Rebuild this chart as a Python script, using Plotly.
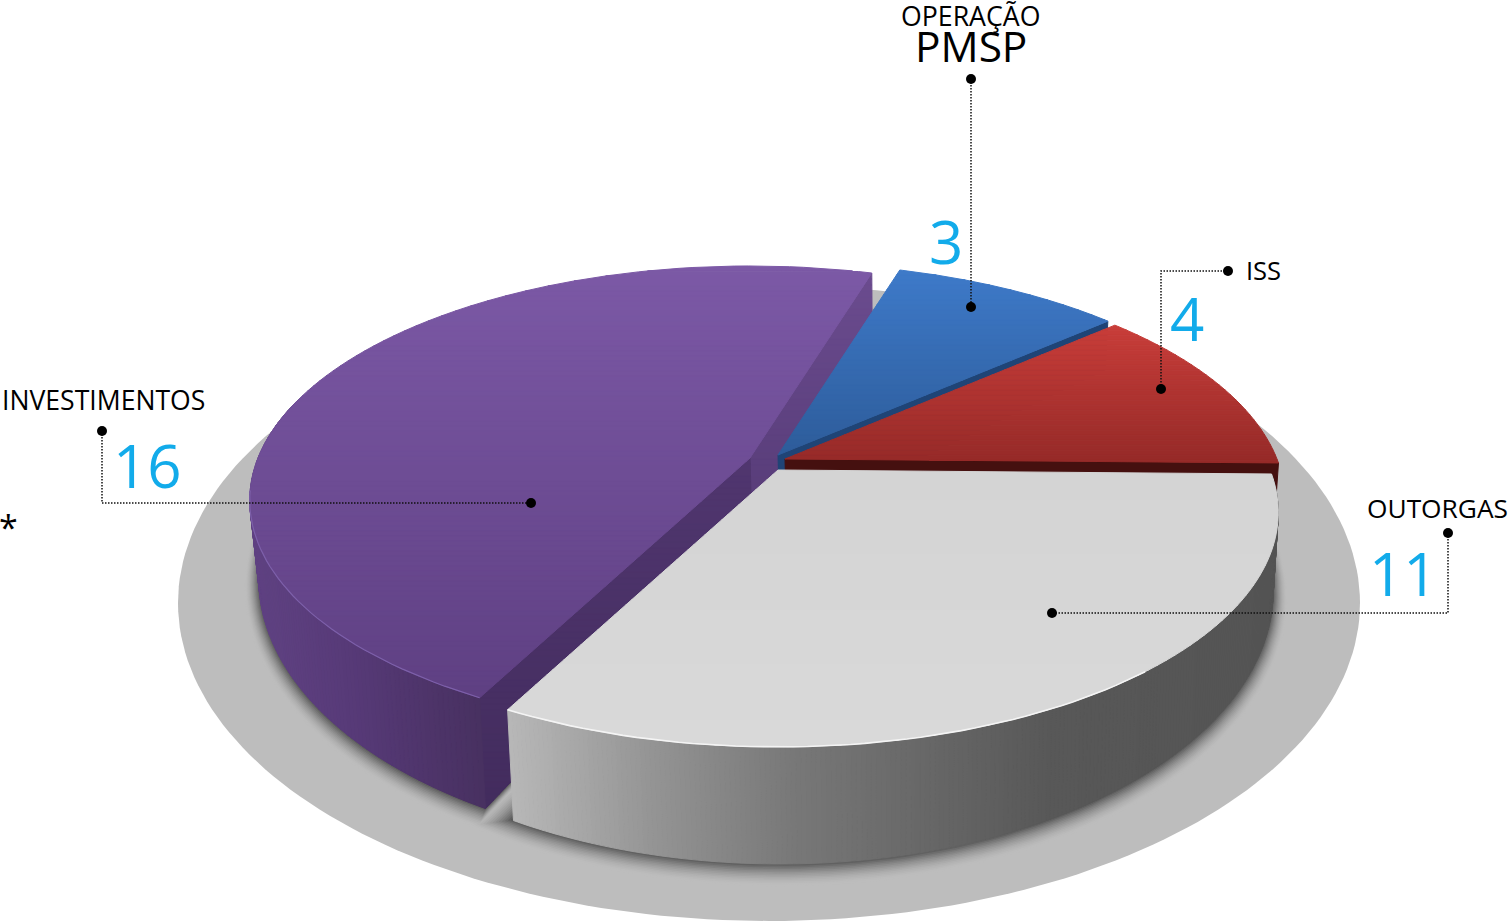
import numpy as np
import plotly.graph_objects as go

# ---- data ----
categories = ["OUTORGAS", "INVESTIMENTOS", "OPERAÇÃO PMSP", "ISS"]
values = [11, 16, 3, 4]
number_colour = "#12ABEA"

# ---- projection of the pie (a tilted disc seen in perspective) ----
W, H = 1510, 922
START_DEG = 1.0
TOP = dict(x0=778, y0=470, a=492, b=226.8, k=-0.181)
BOT = dict(x0=780, y0=541, a=485, b=264.5, k=-0.181)
OFFSET = {"OUTORGAS": (0, 0), "INVESTIMENTOS": (-28, -12), "OPERAÇÃO PMSP": (0, -15), "ISS": (7, -11)}
TOP_STOPS = {
    "OUTORGAS": [(470, "#d4d4d4"), (747, "#d9d9d9")],
    "INVESTIMENTOS": [(266, "#7c59a6"), (694, "#5f4083")],
    "OPERAÇÃO PMSP": [(270, "#3e7ac9"), (455, "#2d5c9a")],
    "ISS": [(325, "#c93d39"), (460, "#962a28")],
}
WALL_STOPS = {
    "OUTORGAS": [(505, "#b9b9b9"), (650, "#959595"), (800, "#777777"), (1050, "#585858"), (1280, "#545454")],
    "INVESTIMENTOS": [(250, "#604283"), (350, "#573a78"), (490, "#47305f")],
}
CUT_COLOUR = {"OPERAÇÃO PMSP": "#1f4476", "ISS": "#45100f"}


def hex2rgb(c):
    return np.array([int(c[i:i + 2], 16) for i in (1, 3, 5)], float)


def ramp(stops, t):
    ps = [s[0] for s in stops]
    cs = np.array([hex2rgb(s[1]) for s in stops])
    rgb = [np.interp(t, ps, cs[:, i]) for i in range(3)]
    return "rgb(%d,%d,%d)" % tuple(round(v) for v in rgb)


def project(p, deg, off=(0, 0), grow=0.0):
    t = np.radians(deg)
    u, v = np.cos(t), np.sin(t)
    d = 1 + p["k"] * v
    return p["x0"] + off[0] + (p["a"] + grow) * u / d, p["y0"] + off[1] + (p["b"] + grow) * v / d


def centre(p, off=(0, 0)):
    return p["x0"] + off[0], p["y0"] + off[1]


def clip_band(poly, y1, y2):
    def clip(pts, inside, cut):
        out = []
        for i in range(len(pts)):
            a, b = pts[i], pts[(i + 1) % len(pts)]
            ia, ib = inside(a), inside(b)
            if ia:
                out.append(a)
            if ia != ib:
                out.append(cut(a, b))
        return out

    def cutter(yc):
        return lambda a, b: (a[0] + (yc - a[1]) / (b[1] - a[1]) * (b[0] - a[0]), yc)

    pts = clip(poly, lambda q: q[1] >= y1, cutter(y1))
    if pts:
        pts = clip(pts, lambda q: q[1] <= y2, cutter(y2))
    return pts


fig = go.Figure()


def fill(xs, ys, colour, seam=1.0):
    fig.add_trace(go.Scatter(x=list(xs) + [xs[0]], y=list(ys) + [ys[0]], mode="lines", fill="toself",
                             fillcolor=colour, line=dict(color=colour, width=seam),
                             hoverinfo="skip", showlegend=False))


# angular extent of each slice, from the values
total = sum(values)
spans = {}
cursor = START_DEG
for name, val in zip(categories, values):
    spans[name] = (cursor, cursor + val / total * 360)
    cursor += val / total * 360

# base disc
t = np.radians(np.linspace(0, 360, 241))
fill(769 + 591 * np.cos(t), 603 + 318 * np.sin(t), "#bdbdbd", 0)

# soft contact shadow
SH = 15
for i in range(SH, -1, -1):
    f = (1 - i / SH) ** 1.7
    col = "rgb(%d,%d,%d)" % tuple(np.round(hex2rgb("#bdbdbd") * (1 - f) + hex2rgb("#484848") * f))
    for name in ["INVESTIMENTOS", "OUTORGAS"]:
        s, e = spans[name]
        off = OFFSET[name]
        extra = i * 0.3 if name == "OUTORGAS" else 0
        th = np.linspace(s, e + extra, 70)
        x, y = project(BOT, th, off, grow=i * 1.0 - 1)
        cx, cy = centre(BOT, off)
        fill(np.r_[cx, x], np.r_[cy, y + i * 0.35], col, 0)


def draw_top(name):
    s, e = spans[name]
    off = OFFSET[name]
    x, y = project(TOP, np.linspace(s, e, 90), off)
    cx, cy = centre(TOP, off)
    poly = [(cx, cy)] + list(zip(x, y))
    ys = [q[1] for q in poly]
    y0, y1 = min(ys), max(ys)
    step = 5.0
    yy = y0
    while yy < y1:
        pts = clip_band(poly, yy, yy + step)
        if len(pts) >= 3:
            fill([q[0] for q in pts], [q[1] for q in pts], ramp(TOP_STOPS[name], yy + step / 2))
        yy += step


def draw_wall(name, a0, a1, n):
    off = OFFSET[name]
    th = np.linspace(a0, a1, n + 1)
    for i in range(n):
        xt, yt = project(TOP, th[i:i + 2], off)
        xb, yb = project(BOT, th[i:i + 2], off)
        xs = [xt[0], xt[1], xb[1], xb[0]]
        ys = [yt[0], yt[1], yb[1], yb[0]]
        fill(xs, ys, ramp(WALL_STOPS[name], float(np.mean(xs))))


def cut_face(name, deg, colour_fn):
    off = OFFSET[name]
    xt, yt = project(TOP, deg, off)
    xb, yb = project(BOT, deg, off)
    cxt, cyt = centre(TOP, off)
    cxb, cyb = centre(BOT, off)
    poly = [(xt, yt), (xb, yb), (cxb, cyb), (cxt, cyt)]
    if isinstance(colour_fn, str):
        fill([q[0] for q in poly], [q[1] for q in poly], colour_fn)
        return
    ys = [q[1] for q in poly]
    yy = min(ys)
    while yy < max(ys):
        pts = clip_band(poly, yy, yy + 6)
        if len(pts) >= 3:
            fill([q[0] for q in pts], [q[1] for q in pts], colour_fn(yy + 3))
        yy += 6


# purple slice
p_s, p_e = spans["INVESTIMENTOS"]
cut_face("INVESTIMENTOS", p_e, lambda y: ramp([(270, "#6b4c8f"), (480, "#5a3e7b")], y))
cut_face("INVESTIMENTOS", p_s, lambda y: ramp([(460, "#50366f"), (800, "#432c5e")], y))
draw_wall("INVESTIMENTOS", p_s, 195, 120)
draw_top("INVESTIMENTOS")
hx, hy = project(TOP, np.linspace(p_s, 172, 40), OFFSET["INVESTIMENTOS"])
fig.add_trace(go.Scatter(x=hx, y=hy, mode="lines", line=dict(color="#7d60aa", width=1.2),
                         hoverinfo="skip", showlegend=False))

# blue slice
b_s, b_e = spans["OPERAÇÃO PMSP"]
cut_face("OPERAÇÃO PMSP", b_e, CUT_COLOUR["OPERAÇÃO PMSP"])
draw_top("OPERAÇÃO PMSP")

# red slice
r_s, r_e = spans["ISS"]
cut_face("ISS", r_e, CUT_COLOUR["ISS"])
draw_top("ISS")

# grey slice
o_s, o_e = spans["OUTORGAS"]
draw_wall("OUTORGAS", o_s, o_e, 240)
draw_top("OUTORGAS")
hx, hy = project(TOP, np.linspace(50, o_e, 50))
fig.add_trace(go.Scatter(x=hx, y=hy, mode="lines", line=dict(color="#f4f4f4", width=1.6),
                         hoverinfo="skip", showlegend=False))

# leader lines
leaders = [
    ([971, 971], [79, 307]),
    ([1228, 1161, 1161], [271, 271, 389]),
    ([102, 102, 531], [431, 503, 503]),
    ([1448, 1448, 1052], [533, 613, 613]),
]
for lx, ly in leaders:
    fig.add_trace(go.Scatter(x=lx, y=ly, mode="lines", line=dict(color="#111111", width=1.5, dash="1.5px,1.5px"),
                             hoverinfo="skip", showlegend=False))
    fig.add_trace(go.Scatter(x=[lx[0], lx[-1]], y=[ly[0], ly[-1]], mode="markers",
                             marker=dict(color="#000000", size=10), hoverinfo="skip", showlegend=False))

FONT = "Open Sans"


def label(x, y, text, size, colour="#000000", anchor="center", family=FONT):
    fig.add_annotation(x=x, y=y, text=text, showarrow=False, xanchor=anchor, yanchor="middle",
                       font=dict(family=family, size=size, color=colour), xref="x", yref="y")


label(970, 15, "OPERAÇÃO", 26.7)
label(971, 45, "PMSP", 42.4)
label(1244, 270, "ISS", 25.5, anchor="left")
label(103, 400, "INVESTIMENTOS", 26.6)
label(1437, 508, "OUTORGAS", 26.3)
label(8, 527, "*", 34)
label(946, 241, str(values[2]), 60, number_colour)
label(1187, 318, str(values[3]), 60, number_colour)
label(147, 465, str(values[1]), 60, number_colour)
label(1403, 573, str(values[0]), 60, number_colour)

fig.update_layout(
    width=W, height=H, margin=dict(l=0, r=0, t=0, b=0),
    paper_bgcolor="white", plot_bgcolor="white", showlegend=False,
    xaxis=dict(range=[0, W], visible=False, fixedrange=True),
    yaxis=dict(range=[H, 0], visible=False, fixedrange=True),
)
fig.write_html("out.html", config={"displayModeBar": False},
               post_script="document.body.style.margin='0';")
